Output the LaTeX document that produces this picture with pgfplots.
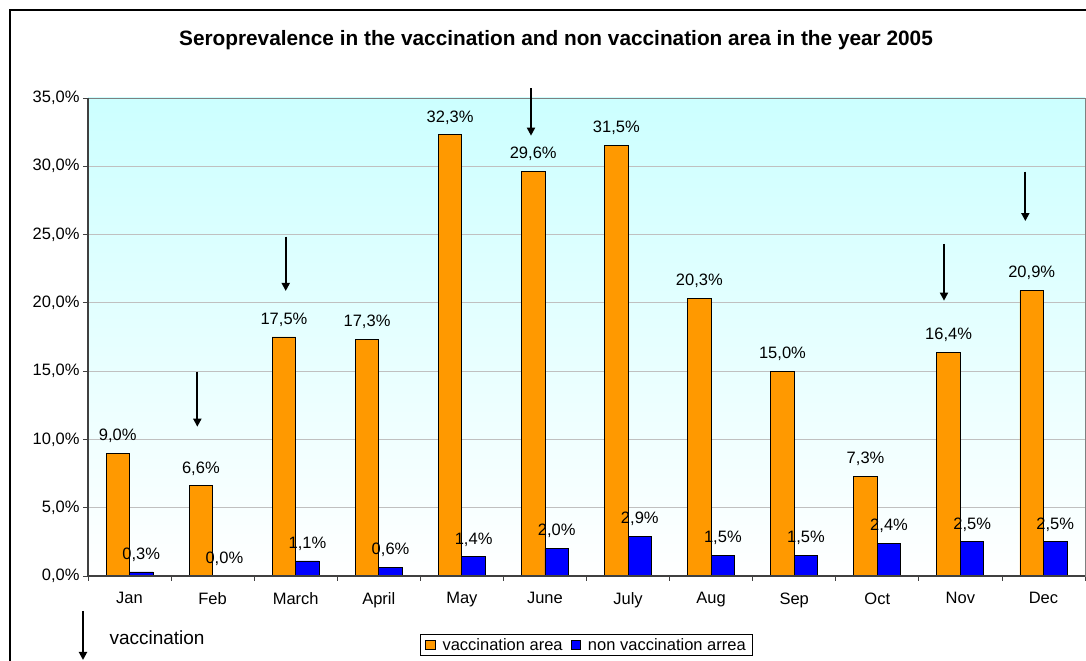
\documentclass[border=0pt]{standalone}
\usepackage{pgfplots}
\pgfplotsset{compat=1.18}
\usepackage{pgfplotstable}
\usepackage{fontspec}
\setmainfont{Liberation Sans}
\usetikzlibrary{arrows.meta}

\definecolor{vacOrange}{RGB}{255,153,0}
\definecolor{nonBlue}{RGB}{0,0,255}
\definecolor{plotCyan}{RGB}{204,255,255}
\definecolor{gridGray}{RGB}{192,192,192}
\definecolor{axisGray}{RGB}{64,64,64}

% month index, vaccination area, non vaccination area (in %)
\pgfplotstableread{
idx vac non
0  9.0  0.3
1  6.6  0.0
2  17.5 1.1
3  17.3 0.6
4  32.3 1.4
5  29.6 2.0
6  31.5 2.9
7  20.3 1.5
8  15.0 1.5
9  7.3  2.4
10 16.4 2.5
11 20.9 2.5
}\seroData

\newcommand{\pct}[1]{\pgfmathprintnumber[fixed,fixed zerofill,precision=1,use comma]{#1}\%}

\begin{document}
\begin{tikzpicture}[x=1bp,y=1bp,font=\fontsize{16.5bp}{20bp}\selectfont]
\begin{axis}[
    at={(0,0)}, anchor=south west,
    scale only axis, width=997bp, height=478bp,
    /pgf/number format/assume math mode=true,
    ybar=0pt, bar width=23.5bp,
    xmin=-0.5, xmax=11.5, ymin=0, ymax=35,
    clip=false,
    axis background/.style={top color=plotCyan, bottom color=white},
    axis line style={gray, line width=0.8bp},
    xtick={-0.5,0.5,...,11.5}, xticklabels={,,,,,,,,,,,,},
    extra x ticks={0,...,11},
    extra x tick labels={Jan,Feb,March,April,May,June,July,Aug,Sep,Oct,Nov,Dec},
    extra x tick style={major tick length=0pt, tick label style={yshift=-13bp}},
    ytick={0,5,...,35},
    yticklabel={\pct{\tick}},
    xtick pos=bottom, ytick pos=left,
    tick align=outside, major tick length=5bp,
    tick style={axisGray, line width=0.8bp},
    ymajorgrids, grid style={gridGray, line width=0.8bp},
    nodes near coords={\pct{\pgfplotspointmeta}},
    every node near coord/.append style={font=\fontsize{16.5bp}{20bp}\selectfont, yshift=7bp},
    legend style={at={(0.5,-0.1444)}, anchor=center, draw=black, line width=0.8bp,
        legend columns=2, font=\fontsize{16.5bp}{20bp}\selectfont,
        inner xsep=5bp,
        /tikz/every odd column/.append style={column sep=5bp},
        /tikz/every even column/.append style={column sep=6bp}},
    legend image code/.code={\draw[#1, line width=0.8bp] (0bp,-4.5bp) rectangle (9.5bp,5bp);},
]
\addplot[fill=vacOrange, draw=black, line width=0.8bp] table[x=idx, y=vac] {\seroData};
\addplot[fill=nonBlue, draw=black, line width=0.8bp] table[x=idx, y=non] {\seroData};
\legend{vaccination area, non vaccination arrea}

% vaccination arrows
\draw[line width=1.8bp, -{Triangle[width=8bp,length=8bp]}] (axis cs:0.816,14.96) -- (axis cs:0.816,10.93);
\draw[line width=1.8bp, -{Triangle[width=8bp,length=8bp]}] (axis cs:1.880,24.84) -- (axis cs:1.880,20.87);
\draw[line width=1.8bp, -{Triangle[width=8bp,length=8bp]}] (axis cs:4.832,35.71) -- (axis cs:4.832,32.24);
\draw[line width=1.8bp, -{Triangle[width=8bp,length=8bp]}] (axis cs:9.803,24.31) -- (axis cs:9.803,20.16);
\draw[line width=1.8bp, -{Triangle[width=8bp,length=8bp]}] (axis cs:10.782,29.60) -- (axis cs:10.782,25.99);

\draw[axisGray, line width=1.5bp] (rel axis cs:0,1) -- (rel axis cs:0,0) -- (rel axis cs:1,0);
\end{axis}

% chart frame, title and arrow key
\draw[black, line width=1.3bp] (-78,-90) -- (-78,566) -- (1005,566);
\node[font=\bfseries\fontsize{20.8bp}{24bp}\selectfont] at (468,536)
    {Seroprevalence in the vaccination and non vaccination area in the year 2005};
\draw[line width=1.8bp, -{Triangle[width=8bp,length=8bp]}] (-5,-35) -- (-5,-84);
\node[anchor=west, font=\fontsize{19bp}{22bp}\selectfont] at (18,-62) {vaccination};

\pgfresetboundingbox
\useasboundingbox (-88,-85) rectangle (998,576);
\end{tikzpicture}
\end{document}
